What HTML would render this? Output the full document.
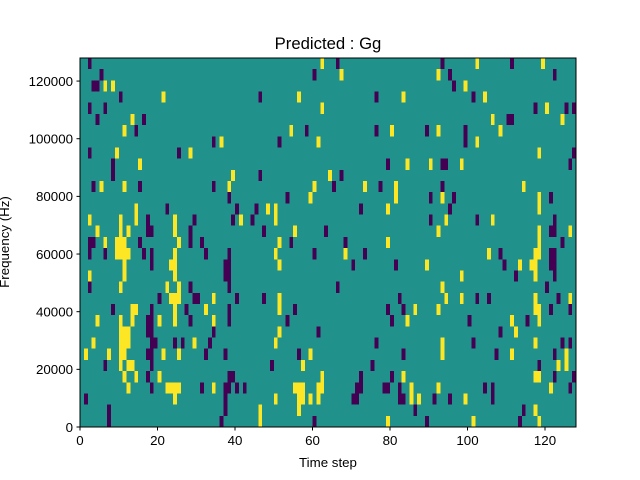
<!DOCTYPE html>
<html><head><meta charset="utf-8"><style>
body{margin:0;background:#fff;}
svg{display:block;font-family:"Liberation Sans",sans-serif;}
</style></head><body>
<svg id="chart" width="640" height="480" viewBox="0 0 640 480" xmlns="http://www.w3.org/2000/svg">
<rect width="640" height="480" fill="#fff"/>
<text x="328" y="49" font-size="16.7" text-anchor="middle">Predicted : Gg</text>
<g id="cells" shape-rendering="crispEdges"></g>
<g id="axes"></g>
<text x="328" y="467" font-size="13.3" text-anchor="middle">Time step</text>
<text transform="translate(9,242) rotate(-90)" font-size="13.3" text-anchor="middle">Frequency (Hz)</text>
</svg>
<script>
const nCols = 128;
const nRows = 33;
const fMax = 128000;
const xTicks = [0, 20, 40, 60, 80, 100, 120];
const yTicks = [0, 20000, 40000, 60000, 80000, 100000, 120000];
// per row (top row first): columns with low value
const lowCells = [
[2,66,93,111],[5,60,95,122],[3,4,96],[10,46,76,101],[2,6,117,125,127],
[4,16,110,111],[14,58,76,89,99],[34,51,99],[2,25,127],[8,79,93,94,126],
[8,46,67],[3,15,34,65,77,93],[38,53,90,96,121],[22,40,45,72,95],[17,29,39,44,90,102,122],
[17,18,28,47,63,121,122],[2,3,15,28,31,54,68,124],[2,6,16,18,32,38,60,73,108,121,122],[18,37,38,70,81,109,121,122],
[37,38,112,122],[2,28,38,66,120],[20,29,30,40,47,82,102,105,123],[8,18,27,38,55,79,83,121,126],
[17,18,28,38,53,80,100,115],[17,18,34,61,108],[18,19,24,26,33,76,101,124,126],[17,18,32,37,56,83,107,122],
[6,18,49,75,118],[17,38,39,72,80,122,127],[18,31,37,38,40,42,71,72,78,79,82,104,106,126],
[1,37,70,71,82,83,91,95,106],[7,37,86,114],[7,36,60,89,113]
];
// per row (top row first): columns with high value
const highCells = [
[62,102,119],[67,92],[6,8,99],[21,56,83,104],[62,120],
[13,106,124],[11,54,80,92,108],[36,61,102],[9,28,118],[15,84,90,98],
[39,64],[5,11,38,60,73,81,114],[59,81,93,118],[14,48,50,79,118],[2,10,14,24,41,50,94,106],
[4,10,12,24,55,92,118,126],[6,9,10,11,25,51,79,118],[9,10,11,12,24,50,68,105,117,118],[11,23,24,51,89,113,116,117],
[2,11,24,98,117],[10,22,25,93],[23,24,25,34,51,94,98,117,126],[13,14,24,32,51,86,92,117,118],
[4,10,13,20,24,34,84,111,118],[10,11,12,51,112],[3,10,11,12,29,50,93,117],[1,7,10,11,21,25,59,93,111,125],
[10,12,13,57,123,125],[11,14,20,62,83,117,118],[12,22,23,24,25,34,55,56,57,61,62,85,92,121],
[24,50,56,57,59,61,85,87,99],[46,56,117],[46,79,101,118]
];
const colors = ['#440154', '#21918c', '#fde725'];
const X0 = 80, X1 = 576, Y0 = 58, Y1 = 427;
const xScale = c => X0 + c / nCols * (X1 - X0);
const yScale = f => Y1 - f / fMax * (Y1 - Y0);
const NS = 'http://www.w3.org/2000/svg';
const cells = document.getElementById('cells');
const axes = document.getElementById('axes');
function mk(tag, attrs, parent) {
  const e = document.createElementNS(NS, tag);
  for (const k in attrs) e.setAttribute(k, attrs[k]);
  parent.appendChild(e);
  return e;
}
const rowH = fMax / nRows;
const bg = mk('rect', {x: X0, y: Y0, width: X1 - X0, height: Y1 - Y0, fill: colors[1]}, cells);


function drawCell(r, c, v) {
  const fTop = fMax - r * rowH, fBot = fTop - rowH;
  const x = xScale(c), y = yScale(fTop);
  const el = mk('rect', {x: x, y: y, width: xScale(c + 1) - x, height: yScale(fBot) - y, fill: colors[v]}, cells);
  
  
}
for (let r = 0; r < nRows; r++) {
  (lowCells[r] || []).forEach(c => drawCell(r, c, 0));
  (highCells[r] || []).forEach(c => drawCell(r, c, 2));
}
const frame = mk('rect', {x: X0, y: Y0, width: X1 - X0, height: Y1 - Y0, fill: 'none', stroke: '#000', 'stroke-width': 1}, axes);


xTicks.forEach(t => {
  const x = xScale(t);
  const tk = mk('line', {x1: x, x2: x, y1: Y1, y2: Y1 + 3.5, stroke: '#000'}, axes);
  
  
  const lb = mk('text', {x: x, y: Y1 + 18, 'font-size': 13.3, 'text-anchor': 'middle'}, axes);
  lb.textContent = t;
  
  
});
yTicks.forEach(t => {
  const y = yScale(t);
  const tk = mk('line', {x1: X0 - 3.5, x2: X0, y1: y, y2: y, stroke: '#000'}, axes);
  
  
  const lb = mk('text', {x: X0 - 7, y: y + 4.8, 'font-size': 13.3, 'text-anchor': 'end'}, axes);
  lb.textContent = t;
  
  
});
</script>
</body></html>
